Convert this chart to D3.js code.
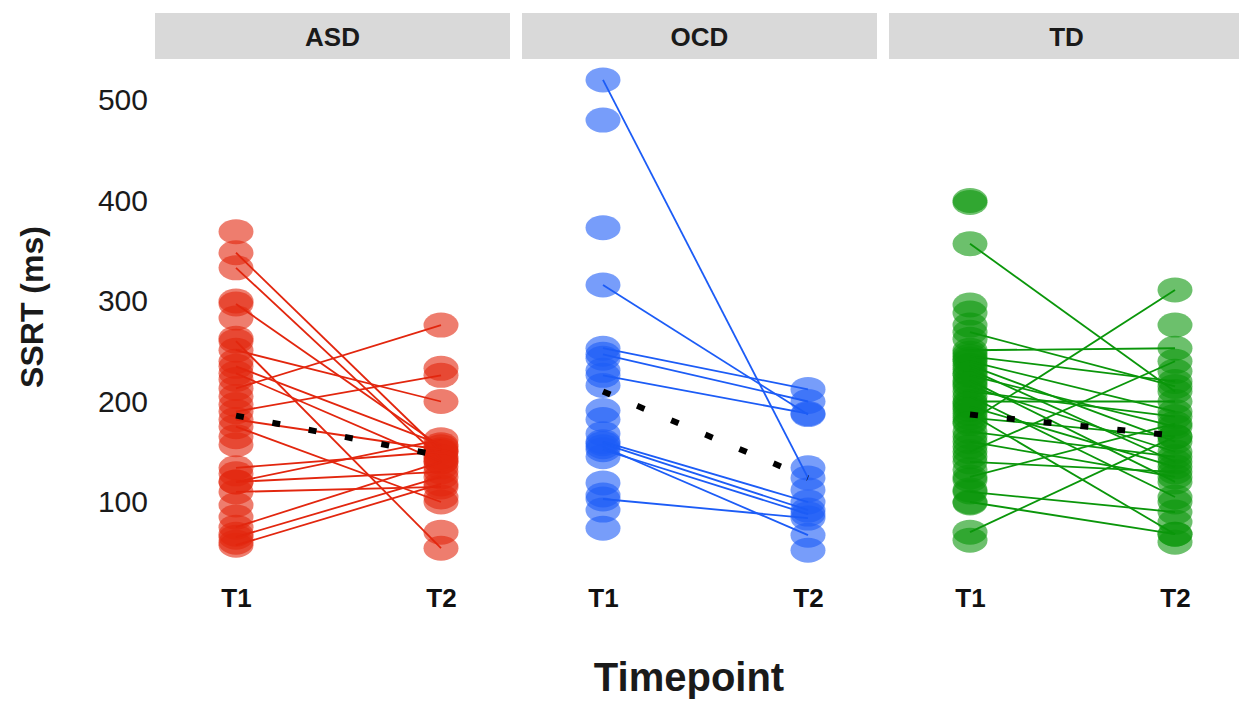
<!DOCTYPE html>
<html>
<head>
<meta charset="utf-8">
<script src="https://cdn.jsdelivr.net/npm/d3@7"></script>
<style>
  body { margin: 0; background: #fff; }
  svg { display: block; }
  text { font-family: "Liberation Sans", Arial, sans-serif; }
</style>
</head>
<body>
<svg id="chart" width="1239" height="701"></svg>
<script>
"use strict";

// facets and x categories
var groups = ["ASD", "OCD", "TD"];
var timepoints = ["T1", "T2"];
var yTicks = [100, 200, 300, 400, 500];

// SSRT per subject, index matched between T1 and T2 (null = missing)
var asdT1 = [348, 333, 297, 260, 251, 235, 228, 213, 190, 182, 175, 134, 120, 120, 110, 75, 65, 57,
             369, 300, 283, 263, 240, 222, 205, 197, 165, 157, 128, 97, 85, 68, 60,
             null, null, null, null, null];
var asdT2 = [150, 143, 155, 54, 200, 157, 140, 276, 226, 152, 100, 150, 130, 162, 115, 140, 125, 118,
             null, null, null, null, null, null, null, null, null, null, null, null, null, null, null,
             233, 70, 105, 135, 145];

var ocdT1 = [520, 316, 253, 247, 226, 160, 158, 155, 152, 103,
             480, 373, 243, 231, 216, 191, 182, 168, 145, 119, 107, 92, 74,
             null, null, null];
var ocdT2 = [124, 187, 212, 200, 188, 100, 92, 67, 88, 84,
             null, null, null, null, null, null, null, null, null, null, null, null, null,
             134, 112, 52];

var tdT1 = [357, 269, 251, 245, 240, 236, 232, 226, 221, 215, 210, 205, 200, 195, 188, 184, 180, 170, 160, 150, 140, 125, 110, 100, 70,
            398, 400, 296, 288, 276, 262, 248, 242, 228, 218, 198, 192, 178, 165, 155, 145, 132, 122, 112, 99, 62,
            null, null, null, null, null];
var tdT2 = [210, 215, 253, 220, 190, 160, 140, 175, 120, 150, 185, 105, 200, 135, 68, 165, 311, 145, 125, 240, 130, 178, 90, 68, 165,
            null, null, null, null, null, null, null, null, null, null, null, null, null, null, null, null, null, null, null, null, null,
            276, 230, 100, 80, 60];

// group means (dashed black line)
var meanT1 = [186, 210, 187];
var meanT2 = [146, 124, 166];

var groupColors = ["#e2260e", "#1c5cf6", "#0a960a"];

var seriesT1 = [asdT1, ocdT1, tdT1];
var seriesT2 = [asdT2, ocdT2, tdT2];

var svg = d3.select("#chart");

// scales
var panelX = d3.scaleBand()
    .domain(groups)
    .range([155, 1244])
    .paddingInner(12 / 367);

var xTime = d3.scalePoint()
    .domain(timepoints)
    .range([81, 286]);

var y = d3.scaleLinear()
    .domain([100, 500])
    .range([502, 100]);

// y axis (labels only)
var yAxis = svg.append("g")
    .attr("transform", "translate(148,0)")
    .call(d3.axisLeft(y).tickValues(yTicks).tickSize(0).tickPadding(0));
yAxis.select(".domain").remove();
yAxis.selectAll("text")
    .style("font-family", "'Liberation Sans', Arial, sans-serif")
    .style("font-size", "30px")
    .attr("fill", "#1a1a1a");

svg.append("text")
    .attr("transform", "translate(43,307) rotate(-90)")
    .attr("text-anchor", "middle")
    .style("font-size", "32px")
    .style("font-weight", "bold")
    .attr("fill", "#1a1a1a")
    .text("SSRT (ms)");

svg.append("text")
    .attr("x", 689)
    .attr("y", 691)
    .attr("text-anchor", "middle")
    .style("font-size", "40px")
    .style("font-weight", "bold")
    .attr("fill", "#1a1a1a")
    .text("Timepoint");

groups.forEach(function (g, gi) {
    var panel = svg.append("g")
        .attr("transform", "translate(" + panelX(g) + ",0)");

    // strip
    panel.append("rect")
        .attr("x", 0)
        .attr("y", 13)
        .attr("width", panelX.bandwidth())
        .attr("height", 46)
        .attr("fill", "#d9d9d9");
    panel.append("text")
        .attr("x", panelX.bandwidth() / 2)
        .attr("y", 46)
        .attr("text-anchor", "middle")
        .style("font-size", "26px")
        .style("font-weight", "bold")
        .attr("fill", "#1a1a1a")
        .text(g);

    // x axis labels
    var xAxis = panel.append("g")
        .attr("transform", "translate(0,585)")
        .call(d3.axisBottom(xTime).tickSize(0).tickPadding(4));
    xAxis.select(".domain").remove();
    xAxis.selectAll("text")
        .style("font-family", "'Liberation Sans', Arial, sans-serif")
        .style("font-size", "26px")
        .style("font-weight", "bold")
        .attr("fill", "#111");

    var t1 = seriesT1[gi], t2 = seriesT2[gi];
    var col = groupColors[gi];

    var pts = [];
    t1.forEach(function (v, i) {
        if (v != null) pts.push({ tp: "T1", v: v });
        if (t2[i] != null) pts.push({ tp: "T2", v: t2[i] });
    });

    panel.selectAll(".pt")
        .data(pts)
        .enter()
        .append("ellipse")
        .attr("class", "pt")
        .attr("cx", function (d) { return xTime(d.tp); })
        .attr("cy", function (d) { return y(d.v); })
        .attr("rx", 17.5)
        .attr("ry", 12.5)
        .attr("fill", col)
        .attr("fill-opacity", 0.6);

    var pairs = [];
    t1.forEach(function (v, i) {
        if (v != null && t2[i] != null) pairs.push([v, t2[i]]);
    });

    panel.selectAll(".subj")
        .data(pairs)
        .enter()
        .append("line")
        .attr("class", "subj")
        .attr("x1", xTime("T1"))
        .attr("x2", xTime("T2"))
        .attr("y1", function (d) { return y(d[0]); })
        .attr("y2", function (d) { return y(d[1]); })
        .attr("stroke", col)
        .attr("stroke-width", 1.8);

    // mean line
    panel.append("line")
        .attr("x1", xTime("T1"))
        .attr("x2", xTime("T2"))
        .attr("y1", y(meanT1[gi]))
        .attr("y2", y(meanT2[gi]))
        .attr("stroke", "#000")
        .attr("stroke-width", 6)
        .attr("stroke-dasharray", "8,29");
});
</script>
</body>
</html>
